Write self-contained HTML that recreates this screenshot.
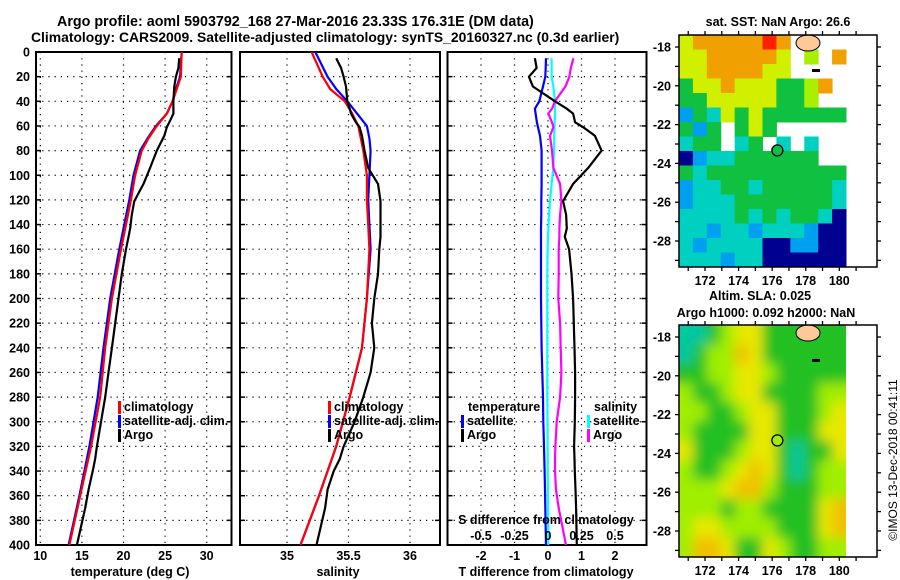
<!DOCTYPE html>
<html><head><meta charset="utf-8">
<style>
html,body{margin:0;padding:0;background:#fff;}
svg{display:block;font-family:"Liberation Sans",Arial,sans-serif;font-weight:bold;}
text{font-size:12.5px;fill:#000;}
</style></head>
<body>
<svg id="fig" width="900" height="580" viewBox="0 0 900 580">
<text x="57" y="26" style="font-size:14.3px">Argo profile: aoml 5903792_168 27-Mar-2016 23.33S 176.31E (DM data)</text>
<text x="31" y="42" style="font-size:13.9px">Climatology: CARS2009. Satellite-adjusted climatology: synTS_20160327.nc (0.3d earlier)</text>
<g id="p1"></g>
<g id="p2"></g>
<g id="p3"></g>
<g id="m1"></g>
<g id="m2"></g>
<text x="778" y="26" text-anchor="middle">sat. SST: NaN Argo: 26.6</text>
<text x="760" y="300" text-anchor="middle">Altim. SLA: 0.025</text>
<text x="766" y="317" text-anchor="middle">Argo h1000: 0.092 h2000: NaN</text>
<text transform="translate(897,460) rotate(-90)" text-anchor="middle" style="font-weight:normal;font-size:12px">©IMOS 13-Dec-2018 00:41:11</text>
</svg>
<script>
// ---------- data ----------
const depthTicks = [0,20,40,60,80,100,120,140,160,180,200,220,240,260,280,300,320,340,360,380,400];
const tempTicks = [10,15,20,25,30];
const salTicks = [35,35.5,36];
const tdiffTicks = [-2,-1,0,1,2];
const sdiffTicks = [-0.5,-0.25,0,0.25,0.5];
const sdiffTickLabels = ["-0.5","-0.25","0","0.25","0.5"];

const climDepth = [0,20,30,40,50,60,70,80,100,120,140,160,200,240,280,320,360,400];
const climTemp  = [27.0,26.9,26.4,25.9,25.2,24.0,23.0,22.2,21.4,20.9,20.3,19.7,18.6,17.8,17.2,16.1,14.8,13.5];
const satTemp   = [27.0,26.8,26.3,25.9,25.2,23.9,22.9,22.0,21.2,20.7,20.1,19.5,18.4,17.6,16.9,15.9,14.7,13.4];
const climSal   = [35.20,35.29,35.35,35.47,35.53,35.58,35.60,35.62,35.65,35.65,35.66,35.67,35.65,35.61,35.51,35.40,35.26,35.11];
const satSal    = [35.23,35.33,35.40,35.49,35.57,35.65,35.67,35.68,35.67,35.66,35.67,35.68,35.65,35.61,35.51,35.40,35.26,35.11];

const argoDepth = [5,13,20,28,40,46,50,57,61,68,80,94,107,121,132,143,150,160,180,200,220,240,260,280,300,320,330,340,355,370,400];
const argoTemp  = [26.7,26.6,26.3,26.1,26.0,26.0,26.0,25.5,25.2,24.9,24.0,23.2,22.4,21.3,21.0,20.8,20.6,20.3,19.8,19.4,19.0,18.6,18.2,17.8,17.3,16.8,16.6,16.3,15.8,15.4,14.4];
const argoSal   = [35.40,35.44,35.46,35.48,35.49,35.51,35.52,35.56,35.59,35.61,35.63,35.66,35.74,35.76,35.76,35.76,35.76,35.75,35.74,35.71,35.69,35.71,35.68,35.62,35.55,35.46,35.43,35.38,35.33,35.31,35.24];
const argoTdiff = [-0.39,-0.34,-0.57,-0.45,0.21,0.56,0.75,0.81,1.05,1.4,1.6,1.2,0.75,0.45,0.54,0.56,0.5,0.63,0.7,0.75,0.77,0.79,0.81,0.81,0.80,0.78,0.79,0.80,0.82,0.84,0.86];
const argoSdiff = [0.19,0.17,0.16,0.13,0.052,0.03,0.002,0.03,0.04,0.015,0.03,0.04,0.09,0.10,0.09,0.085,0.085,0.08,0.08,0.077,0.09,0.095,0.10,0.09,0.065,0.055,0.052,0.052,0.06,0.08,0.134];
const satTdiff  = [-0.06,-0.07,-0.08,-0.15,-0.26,-0.39,-0.37,-0.33,-0.3,-0.24,-0.19,-0.19,-0.19,-0.2,-0.2,-0.21,-0.21,-0.21,-0.21,-0.21,-0.2,-0.19,-0.17,-0.15,-0.14,-0.12,-0.11,-0.1,-0.09,-0.08,-0.06];
const satSdiff  = [0.027,0.027,0.027,0.04,0.052,0.052,0.052,0.05,0.048,0.046,0.045,0.04,0.027,0.015,0.008,0.003,0.0,-0.003,-0.005,-0.005,-0.005,-0.005,-0.005,-0.005,-0.004,-0.003,-0.002,-0.002,-0.001,0.0,0.002];

const lonTicks = [172,174,176,178,180];
const latTicks = [-18,-20,-22,-24,-26,-28];
const argoLon = 176.31, argoLat = -23.33;

const sstRows = [
"yoooooro.PP.",
"yyoooooy.l.o",
"yyooooyy....",
"gyyoyyygglo.",
"ggyyyyyggl..",
"bgcygygggggg",
"gbg.gyg.....",
"cgg.cg.c.c..",
"nbccgggggg..",
"gcgggggggggg",
"bccggcgggggc",
"bcccgggggggc",
"ccccgcgcggcn",
"ccbccbcccbnn",
"cbccccnnbbnn",
"cccbccnnnnnn"];
const slaRows = [
"TTGLYYGGGGGG",
"TGLLOYGGGGGG",
"GGLLYYLGGGGG",
"LGGLYYGGGGLL",
"LLGGLYYGGGLY",
"LGGGGYYGGGYY",
"YGGGLYYGTGGY",
"LGGLYOYGTGLL",
"LLLYOOLGGGLL",
"LLLGLLGGGGYO",
"LYYLLLLGGGYO",
"LOOYGGYLGGLL"];

// ---------- helpers ----------
const NS="http://www.w3.org/2000/svg";
function mk(tag, attrs, parent){const e=document.createElementNS(NS,tag);for(const k in attrs)e.setAttribute(k,attrs[k]);parent.appendChild(e);return e;}
const plotTop=52, plotBot=545;
function yDepth(d){return plotTop+(d/400)*(plotBot-plotTop);}
function linX(v0,x0,v1,x1){return v=>x0+(v-v0)*(x1-x0)/(v1-v0);}

function frame(g,L,R,xTicks,xf,yLabels){
  depthTicks.forEach(d=>{
    const y=yDepth(d);
    if(d>0&&d<400){
      const l=mk('line',{x1:L,x2:R,y1:y,y2:y,stroke:'#000','stroke-width':1.2,'stroke-dasharray':'1.2,5'},g);
      
      
    }
    mk('line',{x1:L,x2:L+5,y1:y,y2:y,stroke:'#000','stroke-width':1.5},g);
    mk('line',{x1:R-5,x2:R,y1:y,y2:y,stroke:'#000','stroke-width':1.5},g);
    if(yLabels){
      const t=mk('text',{x:L-6,y:y+4.5,'text-anchor':'end'},g);
      t.textContent=d;
      
      
    }
  });
  xTicks.forEach(v=>{
    const x=xf(v);
    const l=mk('line',{x1:x,x2:x,y1:plotTop,y2:plotBot,stroke:'#000','stroke-width':1.2,'stroke-dasharray':'1.2,5'},g);
    
    
  });
  const r=mk('rect',{x:L,y:plotTop,width:R-L,height:plotBot-plotTop,fill:'none',stroke:'#000','stroke-width':2},g);
  
  
}
function xLabels(g,ticks,labels,xf,y){
  ticks.forEach((v,i)=>{
    const t=mk('text',{x:xf(v),y:y,'text-anchor':'middle'},g);
    t.textContent=labels?labels[i]:String(v);
    
    
  });
}
function series(g,depths,vals,xf,color,name){
  const pts=depths.map((d,i)=>xf(vals[i]).toFixed(1)+','+yDepth(d).toFixed(1)).join(' ');
  const p=mk('polyline',{points:pts,fill:'none',stroke:color,'stroke-width':2.2,'stroke-linejoin':'round'},g);
  
  
}
function legend(g,x,y,color,label){
  mk('rect',{x:x,y:y-10,width:3,height:13,fill:color},g);
  const t=mk('text',{x:x+6,y:y},g);
  t.textContent=label;
  
  
}
function lbl(g,x,y,txt,name,anchor){
  const t=mk('text',{x:x,y:y,'text-anchor':anchor||'start'},g);
  t.textContent=txt;
  
  
}

// ---------- panel 1: temperature ----------
const p1=document.getElementById('p1');
const xT=linX(10,40.3,30,206.7);
frame(p1,36,231.5,tempTicks,xT,true);
series(p1,climDepth,satTemp,xT,'#0000ff','satellite-temperature-line');
series(p1,climDepth,climTemp,xT,'#ff0000','climatology-temperature-line');
series(p1,argoDepth,argoTemp,xT,'#000','argo-temperature-line');
xLabels(p1,tempTicks,null,xT,560);
lbl(p1,130,576,'temperature (deg C)','x-axis-title','middle');
legend(p1,118,411,'#ff0000','climatology');
legend(p1,118,425,'#0000ff','satellite-adj. clim.');
legend(p1,118,439,'#000','Argo');

// ---------- panel 2: salinity ----------
const p2=document.getElementById('p2');
const xS=linX(35,287,36,410);
frame(p2,240,440,salTicks,xS,false);
series(p2,climDepth,satSal,xS,'#0000ff','satellite-salinity-line');
series(p2,climDepth,climSal,xS,'#ff0000','climatology-salinity-line');
series(p2,argoDepth,argoSal,xS,'#000','argo-salinity-line');
xLabels(p2,salTicks,null,xS,560);
lbl(p2,338,576,'salinity','x-axis-title','middle');
legend(p2,328,411,'#ff0000','climatology');
legend(p2,328,425,'#0000ff','satellite-adj. clim.');
legend(p2,328,439,'#000','Argo');

// ---------- panel 3: differences ----------
const p3=document.getElementById('p3');
const xD=linX(0,548,1,581.5);
const xSD=linX(0,548,0.25,581.5);
frame(p3,447.5,646.5,tdiffTicks,xD,false);
series(p3,argoDepth,satTdiff,xD,'#0000ff','satellite-temperature-diff-line');
series(p3,argoDepth,satSdiff,xSD,'#00ffff','satellite-salinity-diff-line');
series(p3,argoDepth,argoSdiff,xSD,'#ff00ff','argo-salinity-diff-line');
series(p3,argoDepth,argoTdiff,xD,'#000','argo-temperature-diff-line');
xLabels(p3,tdiffTicks,null,xD,560);
lbl(p3,546,576,'T difference from climatology','x-axis-title','middle');
xLabels(p3,sdiffTicks,sdiffTickLabels,xSD,540);
lbl(p3,546,524,'S difference from climatology','secondary-axis-title','middle');
lbl(p3,468,411,'temperature','legend-title-temperature');
legend(p3,461,425,'#0000ff','satellite');
legend(p3,461,439,'#000','Argo');
lbl(p3,594,411,'salinity','legend-title-salinity');
legend(p3,587,425,'#00ffff','satellite');
legend(p3,587,439,'#ff00ff','Argo');

// ---------- maps ----------
const sstCol={o:'#f0a000',r:'#ff2000',y:'#d0f000',l:'#a8f000',g:'#10c040',c:'#00d0c0',b:'#00a0f0',n:'#000090',P:'#ffffff','.':null};
const slaCol={G:'#20c020',L:'#a0ee00',Y:'#e8e800',O:'#f0c000',T:'#00c8a0'};
function mapAxes(g,y0,y1,latRef,latLabelsY){
  const lx=linX(172,705,180,839.3);
  const ly=linX(-18,latRef,-28,latRef+194);
  for(let lon=171;lon<=181;lon++){
    const x=lx(lon);
    mk('line',{x1:x,x2:x,y1:y0-4,y2:y0,stroke:'#000','stroke-width':1.3},g);
    mk('line',{x1:x,x2:x,y1:y1,y2:y1+4,stroke:'#000','stroke-width':1.3},g);
  }
  for(let lat=-17;lat>=-29;lat--){
    const y=ly(lat);
    if(y<y0||y>y1)continue;
    mk('line',{x1:675,x2:679,y1:y,y2:y,stroke:'#000','stroke-width':1.3},g);
    mk('line',{x1:877,x2:881,y1:y,y2:y,stroke:'#000','stroke-width':1.3},g);
  }
  latTicks.forEach(l=>{
    const t=mk('text',{x:671,y:ly(l)+4.5,'text-anchor':'end'},g);
    t.textContent=l;
    
    
  });
  lonTicks.forEach(l=>{
    const t=mk('text',{x:lx(l),y:latLabelsY,'text-anchor':'middle'},g);
    t.textContent=l;
    
    
  });
  const isl=mk('ellipse',{cx:808,cy:latRef-4,rx:12,ry:8,fill:'#ffc898',stroke:'#000','stroke-width':1},g);
  
  
  mk('rect',{x:812,y:latRef+22,width:8,height:3,fill:'#000'},g);
  const m=mk('circle',{cx:lx(argoLon),cy:ly(argoLat),r:5.5,fill:(g.id==='m1'?'#10c040':'#a0ee00'),stroke:'#000','stroke-width':1.3},g);
  
  
  const r=mk('rect',{x:679,y:y0,width:198,height:y1-y0,fill:'none',stroke:'#000','stroke-width':1.5},g);
  
  
}
// SST map
const m1=document.getElementById('m1');
const cw=(846-679)/12, ch1=(267-35)/16;
sstRows.forEach((row,ri)=>{[...row].forEach((c,ci)=>{
  const col=sstCol[c]; if(!col)return;
  mk('rect',{x:679+ci*cw,y:35+ri*ch1,width:cw+0.5,height:ch1+0.5,fill:col},m1);
});});
mapAxes(m1,35,267,47,285);
// SLA map
const m2=document.getElementById('m2');
mk('defs',{},m2).innerHTML='<filter id="bl" x="0" y="0" width="1" height="1"><feGaussianBlur stdDeviation="6"/></filter><clipPath id="cp"><rect x="679" y="325" width="167" height="232"/></clipPath>';
const sg=mk('g',{'clip-path':'url(#cp)'},m2);
const bg=mk('g',{filter:'url(#bl)'},sg);
const ch2=(557-325)/12;
slaRows.forEach((row,ri)=>{[...row].forEach((c,ci)=>{
  mk('rect',{x:679+ci*cw-(ci===0?12:0),y:325+ri*ch2-(ri===0?12:0),width:cw+0.5+(ci===0||ci===11?12:0),height:ch2+0.5+(ri===0||ri===11?12:0),fill:slaCol[c]},bg);
});});
mapAxes(m2,325,557,337,575);
</script>
</body></html>
